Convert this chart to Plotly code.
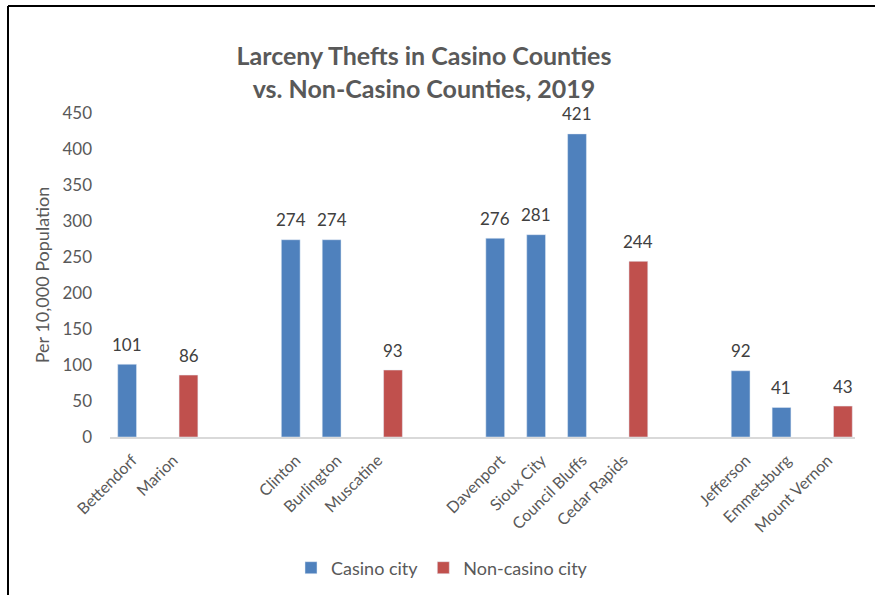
import plotly.graph_objects as go

# Category slots along the x axis (spacer slots separate the county groups)
categories = ["Bettendorf", "Marion", "gap1", "gap2",
              "Clinton", "Burlington", "Muscatine", "gap3", "gap4",
              "Davenport", "Sioux City", "Council Bluffs", "Cedar Rapids", "gap5", "gap6",
              "Jefferson", "Emmetsburg", "Mount Vernon"]
city_labels = ["Bettendorf", "Marion", "Clinton", "Burlington", "Muscatine",
               "Davenport", "Sioux City", "Council Bluffs", "Cedar Rapids",
               "Jefferson", "Emmetsburg", "Mount Vernon"]

# Larceny thefts per 10,000 population
casino_values = [101, None, None, None,
                 274, 274, None, None, None,
                 276, 281, 421, None, None, None,
                 92, 41, None]
non_casino_values = [None, 86, None, None,
                     None, None, 93, None, None,
                     None, None, None, 244, None, None,
                     None, None, 43]

y_ticks = [0, 50, 100, 150, 200, 250, 300, 350, 400, 450]

BLUE = "#4F81BD"
RED = "#C0504D"
FONT = "Lato"
GREY = "#595959"

# plot area in pixels
L, R, T, B = 110, 20, 113, 158
W, H = 875, 595
pw, ph = W - L - R, H - T - B

fig = go.Figure()
fig.add_trace(go.Bar(x=categories, y=casino_values, name="Casino city",
                     marker_color=BLUE))
fig.add_trace(go.Bar(x=categories, y=non_casino_values, name="Non-casino city",
                     marker_color=RED))

# value labels above each bar
annotations = []
slot = pw / len(categories) / 2
for vals, shift in ((casino_values, -slot / 2), (non_casino_values, slot / 2)):
    for cat, v in zip(categories, vals):
        if v is None:
            continue
        annotations.append(dict(x=cat, y=v, xref="x", yref="y", text=str(v),
                                showarrow=False, xshift=shift, yshift=20,
                                yanchor="middle",
                                font=dict(family=FONT, size=17, color="#404040")))

def px_x(p):
    return (p - L) / pw

def px_y(p):
    return (H - B - p) / ph

# chart frame (top and left edges)
shapes = [
    dict(type="line", xref="paper", yref="paper", x0=px_x(8), x1=px_x(875),
         y0=px_y(6), y1=px_y(6), line=dict(color="black", width=2)),
    dict(type="line", xref="paper", yref="paper", x0=px_x(8), x1=px_x(8),
         y0=px_y(6), y1=px_y(595), line=dict(color="black", width=2)),
]

fig.update_layout(
    width=W, height=H,
    margin=dict(l=L, r=R, t=T, b=B, autoexpand=False),
    paper_bgcolor="white", plot_bgcolor="white",
    barmode="group", bargap=0, bargroupgap=0.08,
    font=dict(family=FONT, size=16, color=GREY),
    title=dict(text="<b>Larceny Thefts in Casino Counties<br>vs. Non-Casino Counties, 2019</b>",
               xref="container", x=424 / W, xanchor="center",
               yref="container", y=1 - 65 / H, yanchor="middle",
               font=dict(family=FONT, size=25, color=GREY)),
    xaxis=dict(type="category", categoryorder="array", categoryarray=categories,
               tickvals=city_labels, ticktext=city_labels, tickangle=-45,
               showgrid=False, showline=True, linecolor="#D9D9D9", linewidth=1.5,
               ticks="", ticklabelstandoff=6, ticklabelshift=-5,
               tickfont=dict(family=FONT, size=16, color=GREY)),
    yaxis=dict(range=[0, 450], tickvals=y_ticks, showgrid=False, zeroline=False,
               showline=False, ticks="", ticklabelstandoff=17,
               tickfont=dict(family=FONT, size=17, color=GREY),
               title=dict(text="Per 10,000 Population", standoff=8,
                          font=dict(family=FONT, size=18, color=GREY))),
    legend=dict(orientation="h", xref="paper", yref="paper",
                x=px_x(442), xanchor="center", y=px_y(568), yanchor="middle",
                font=dict(family=FONT, size=18, color=GREY)),
    annotations=annotations,
    shapes=shapes,
)

fig.write_html("out.html")
